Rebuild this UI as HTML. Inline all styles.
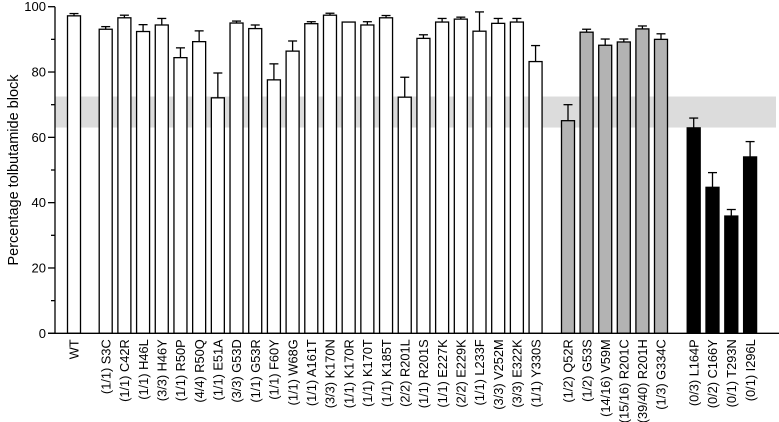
<!DOCTYPE html>
<html><head><meta charset="utf-8"><style>
html,body{margin:0;padding:0;background:#fff;}
svg{display:block;font-family:"Liberation Sans",Arial,sans-serif;}
</style></head><body>
<svg id="chart" width="779" height="422" viewBox="0 0 779 422" xmlns="http://www.w3.org/2000/svg"></svg>
<script>
const categories = ["WT","(1/1) S3C","(1/1) C42R","(1/1) H46L","(3/3) H46Y","(1/1) R50P","(4/4) R50Q","(1/1) E51A","(3/3) G53D","(1/1) G53R","(1/1) F60Y","(1/1) W68G","(1/1) A161T","(3/3) K170N","(1/1) K170R","(1/1) K170T","(1/1) K185T","(2/2) R201L","(1/1) R201S","(1/1) E227K","(2/2) E229K","(1/1) L233F","(3/3) V252M","(3/3) E322K","(1/1) Y330S","(1/2) Q52R","(1/2) G53S","(14/16) V59M","(15/16) R201C","(39/40) R201H","(1/3) G334C","(0/3) L164P","(0/2) C166Y","(0/1) T293N","(0/1) I296L"];
const values = [97.2,93.1,96.6,92.4,94.4,84.4,89.3,72.1,95,93.3,77.6,86.4,94.8,97.4,95.3,94.4,96.6,72.3,90.3,95.3,96.2,92.5,94.9,95.3,83.2,65.1,92.2,88.2,89.2,93.2,90,62.9,44.7,35.9,54];
const errors = [0.7,0.8,0.8,2.1,2,3,3.3,7.6,0.6,1.1,4.9,3.1,0.6,0.6,0,1,0.7,6.1,1.1,1.1,0.6,5.9,1.5,1.1,4.9,4.9,0.9,1.9,0.9,0.9,1.7,3,4.5,2,4.7];
const groups = [0,1,1,1,1,1,1,1,1,1,1,1,1,1,1,1,1,1,1,1,1,1,1,1,1,2,2,2,2,2,2,3,3,3,3];
const yTicks = [0,20,40,60,80,100];
const yMinorTicks = [10,30,50,70,90];
const band = [63,72.5];

const NS="http://www.w3.org/2000/svg";
const svg=document.getElementById('chart');
const x0=55, y0=333.3, pxPerUnit=3.266, barW=13;
function y(v){return y0 - v*pxPerUnit;}
const groupStart=[74,105.7,568,693.7], groupStep=[18.7,18.69,18.6,18.8];
function x(i){
  const g=groups[i]; let first=groups.indexOf(g);
  return groupStart[g]+(i-first)*groupStep[g];
}
const fills=["#fff","#fff","#b3b3b3","#000"];
function mk(tag,attrs,parent){const e=document.createElementNS(NS,tag);for(const k in attrs)e.setAttribute(k,attrs[k]);(parent||svg).appendChild(e);return e;}

const b=mk('rect',{x:x0,y:y(band[1]),width:779-x0-3,height:y(band[0])-y(band[1]),fill:"#dcdcdc"});



values.forEach((v,i)=>{
  const cx=x(i);
  const g=mk('g',{});
  
  
  if(errors[i]>0){
    mk('line',{x1:cx,x2:cx,y1:y(v),y2:y(v+errors[i]),stroke:"#000","stroke-width":1.3},g);
    mk('line',{x1:cx-4.5,x2:cx+4.5,y1:y(v+errors[i]),y2:y(v+errors[i]),stroke:"#000","stroke-width":1.3},g);
  }
  mk('rect',{x:cx-barW/2,y:y(v),width:barW,height:y0-y(v),fill:fills[groups[i]],stroke:"#000","stroke-width":1.3},g);
  const t=mk('text',{x:0,y:0,transform:`translate(${cx+4.7},${y0+6}) rotate(-90)`,"text-anchor":"end","font-size":12.8,fill:"#000"});
  t.textContent=categories[i];
  
  
});

const ax=mk('g',{});


mk('line',{x1:x0,x2:x0,y1:y(100),y2:y0,stroke:"#000","stroke-width":1.3},ax);
yTicks.forEach(v=>{
  mk('line',{x1:x0-7,x2:x0,y1:y(v),y2:y(v),stroke:"#000","stroke-width":1.3},ax);
  const t=mk('text',{x:x0-9,y:y(v)+4.5,"text-anchor":"end","font-size":13},ax);
  t.textContent=v;
  
  
});
yMinorTicks.forEach(v=>{
  mk('line',{x1:x0-4,x2:x0,y1:y(v),y2:y(v),stroke:"#000","stroke-width":1.3},ax);
});
const xa=mk('line',{x1:x0-7,x2:779,y1:y0,y2:y0,stroke:"#000","stroke-width":1.3});


const yt=mk('text',{x:0,y:0,transform:"translate(18,170) rotate(-90)","text-anchor":"middle","font-size":14.5});
yt.textContent="Percentage tolbutamide block";


</script>
</body></html>
